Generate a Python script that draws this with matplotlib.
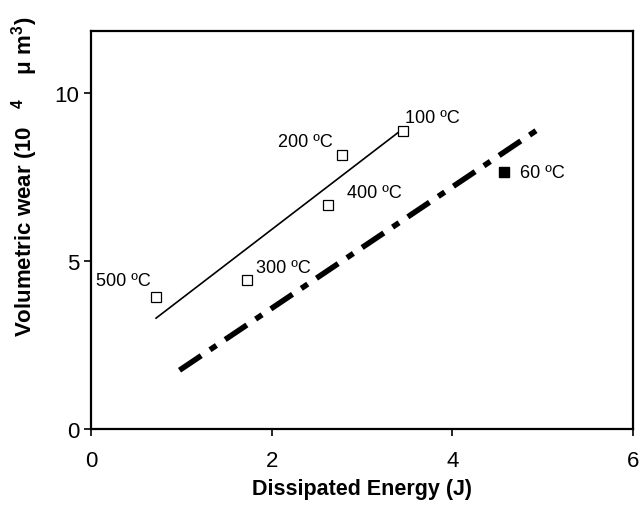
import numpy as np
import matplotlib.pyplot as plt

plt.rcParams['font.family'] = ['Liberation Sans', 'DejaVu Sans']
plt.rcParams['mathtext.fontset'] = 'custom'
plt.rcParams['mathtext.rm'] = 'Liberation Sans'
plt.rcParams['mathtext.bf'] = 'Liberation Sans:bold'

# measured points (hollow squares)
energy = [0.72, 1.73, 2.62, 2.78, 3.45]
wear = [3.93, 4.43, 6.67, 8.15, 8.87]
temps = ['500 ºC', '300 ºC', '400 ºC', '200 ºC', '100 ºC']

# 60 C point (filled)
energy_60 = [4.57]
wear_60 = [7.65]

# fit line through the hollow points
fit_x = [0.72, 3.45]
fit_y = [3.30, 8.93]

# dash-dot line
dd_x = [0.98, 4.97]
dd_y = [1.75, 8.96]

fig = plt.figure(figsize=(6.39, 5.10), dpi=100)
ax = fig.add_axes([91/639, 80/510, 542/639, 398/510])

ax.plot(fit_x, fit_y, color='black', lw=1.2)
line, = ax.plot(dd_x, dd_y, color='black', lw=4.0, solid_capstyle='butt')
line.set_dashes([4.7, 1.9, 1.4, 1.9])
line.set_dash_capstyle('butt')

ax.plot(energy, wear, 's', ms=7, mfc='white', mec='black', mew=0.9, zorder=3)
ax.plot(energy_60, wear_60, 's', ms=6.5, color='black', zorder=3)

# label offsets in points (left edge, vertical centre)
offsets = [(-43, 12), (6, 9), (14, 9), (-46, 10), (1.5, 10)]
for x, y, t, off in zip(energy, wear, temps, offsets):
    ax.annotate(t, (x, y), xytext=off, textcoords='offset points',
                fontsize=13, va='center')
ax.annotate('60 ºC', (energy_60[0], wear_60[0]), xytext=(12, 0),
            textcoords='offset points', fontsize=13, va='center')

ax.set_xlim(0, 6)
ax.set_ylim(0, 11.85)
ax.set_xticks([0, 2, 4, 6])
ax.set_yticks([0, 5, 10])
ax.tick_params(labelsize=16, direction='out', length=5, width=1.2)
ax.tick_params(axis='x', pad=10)
for s in ax.spines.values():
    s.set_linewidth(1.6)

ax.set_xlabel('Dissipated Energy (J)', fontsize=15.5, fontweight='bold', labelpad=5)
ax.set_ylabel(r'Volumetric wear (10   $^{\mathbf{4}}$    $\mathbf{\mu}$ m$^{\mathbf{3}}$)',
              fontsize=16, fontweight='bold')
ax.yaxis.set_label_coords(-0.095, 0.635)

fig.savefig('out.png', dpi=100)
